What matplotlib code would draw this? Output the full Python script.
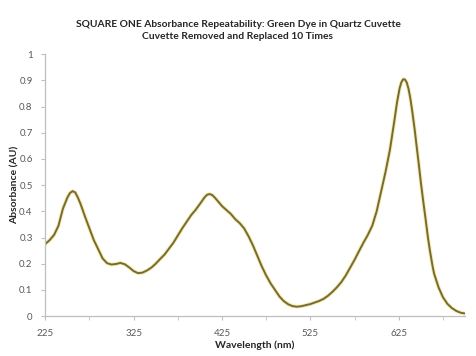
import numpy as np
from matplotlib import pyplot as plt
from matplotlib.ticker import MultipleLocator, FixedLocator

# wavelength (nm) and absorbance (AU)
wavelength = [225, 230, 235, 240, 245, 250, 253, 256, 259, 262, 265, 270, 275, 280, 285,
              290, 295, 300, 305, 310, 315, 320, 325, 330, 335, 340, 345, 350, 355,
              360, 370, 380, 390, 395, 400, 405, 408, 411, 414, 417, 420, 425, 430,
              435, 440, 445, 450, 455, 460, 465, 470, 475, 480, 485, 490, 495, 500,
              505, 510, 515, 520, 525, 530, 535, 540, 545, 550, 555, 560, 565, 570,
              575, 580, 585, 590, 595, 600, 605, 610, 615, 620, 623, 626, 628, 630,
              632, 634, 636, 638, 640, 643, 645, 648, 650, 653, 655, 658, 660, 663,
              665, 670, 675, 680, 685, 690, 695, 700]
absorbance = [0.275, 0.29, 0.31, 0.345, 0.41, 0.452, 0.47, 0.477, 0.472, 0.452, 0.428,
              0.38, 0.335, 0.29, 0.255, 0.22, 0.202, 0.197, 0.199, 0.203, 0.198,
              0.186, 0.172, 0.164, 0.166, 0.174, 0.185, 0.2, 0.218, 0.235, 0.28,
              0.335, 0.385, 0.405, 0.428, 0.452, 0.463, 0.466, 0.462, 0.452, 0.44,
              0.42, 0.405, 0.39, 0.37, 0.355, 0.335, 0.305, 0.27, 0.23, 0.19, 0.155,
              0.125, 0.1, 0.075, 0.057, 0.045, 0.038, 0.036, 0.038, 0.042, 0.046,
              0.052, 0.058, 0.066, 0.078, 0.093, 0.11, 0.13, 0.155, 0.185, 0.215,
              0.248, 0.28, 0.31, 0.345, 0.4, 0.475, 0.55, 0.635, 0.745, 0.815, 0.87,
              0.893, 0.904, 0.903, 0.892, 0.868, 0.833, 0.788, 0.712, 0.655, 0.57,
              0.51, 0.43, 0.38, 0.3, 0.255, 0.195, 0.162, 0.11, 0.072, 0.047, 0.031,
              0.02, 0.013, 0.01]

x_labels = [225, 325, 425, 525, 625]
x_minor = [275, 375, 475, 575, 675]
title = "SQUARE ONE Absorbance Repeatability: Green Dye in Quartz Cuvette\nCuvette Removed and Replaced 10 Times"

plt.rcParams['font.family'] = ['Lato', 'DejaVu Sans']

fig = plt.figure(figsize=(4.76, 3.56), dpi=100)
ax = fig.add_axes([0.095, 0.112, 0.882, 0.736])

# faint yellow halo then the olive trace on top
ax.plot(wavelength, absorbance, color='#efe398', lw=2.8, alpha=0.7,
        solid_capstyle='round', solid_joinstyle='round')
ax.plot(wavelength, absorbance, color='#776b2e', lw=1.4,
        solid_capstyle='round', solid_joinstyle='round')

ax.set_xlim(225, 700)
ax.set_ylim(0, 1)
ax.xaxis.set_major_locator(FixedLocator(x_labels))
ax.xaxis.set_minor_locator(FixedLocator(x_minor))
ax.yaxis.set_major_locator(MultipleLocator(0.1))
ax.set_yticklabels([f"{v:g}" for v in np.round(ax.get_yticks(), 1)])

for s in ['top', 'right']:
    ax.spines[s].set_visible(False)
for s in ['left', 'bottom']:
    ax.spines[s].set_color('#bfbfbf')
    ax.spines[s].set_linewidth(0.9)

ax.tick_params(axis='both', which='both', colors='#bfbfbf', labelcolor='#595959', labelsize=7)
ax.tick_params(axis='x', which='both', direction='out', length=3, pad=6)
ax.tick_params(axis='y', direction='out', length=3, pad=6)

ax.set_xlabel("Wavelength (nm)", fontsize=7.5, fontweight='bold', color='#262626', labelpad=2)
ax.set_ylabel("Absorbance (AU)", fontsize=7.5, fontweight='bold', color='#262626')
ax.yaxis.set_label_coords(-0.062, 0.5)
fig.suptitle(title, fontsize=7.4, fontweight='bold', color='#262626', y=0.945, linespacing=1.45)

fig.savefig("out.png", dpi=100, facecolor='white')
